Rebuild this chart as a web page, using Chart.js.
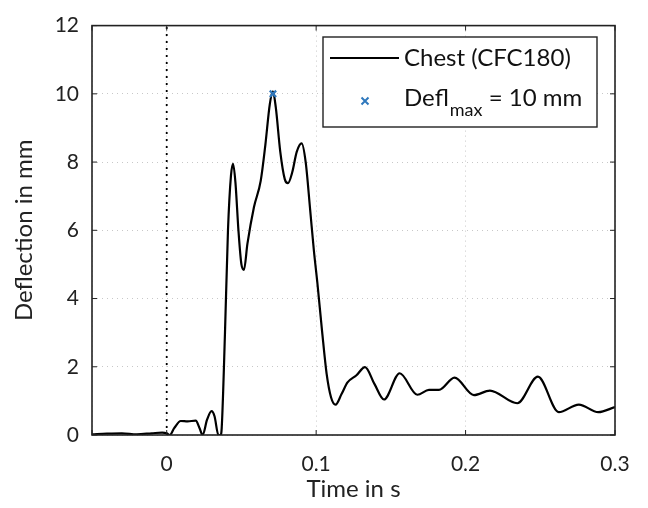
<!DOCTYPE html>
<html>
<head>
<meta charset="utf-8">
<script src="https://cdn.jsdelivr.net/npm/chart.js@4"></script>
<style>
  html, body { margin: 0; padding: 0; background: #fff; }
  #wrap { width: 648px; height: 508px; }
</style>
</head>
<body>
<div id="wrap"><canvas id="deflChart" width="648" height="508"></canvas></div>
<script>
// chest deflection (CFC180)
const timeS = [
  -0.05, -0.04, -0.03, -0.02, -0.01, -0.003, 0.0, 0.002, 0.005, 0.0094, 0.014, 0.0194,
  0.022, 0.024, 0.027, 0.030, 0.032, 0.0346, 0.036, 0.0368, 0.039, 0.041, 0.043, 0.0444,
  0.046, 0.048, 0.050, 0.0517, 0.054, 0.0584, 0.0629, 0.066, 0.069, 0.0711, 0.073, 0.076,
  0.079, 0.0811, 0.084, 0.087, 0.0903, 0.093, 0.096, 0.0985, 0.1008, 0.104, 0.107, 0.110,
  0.113, 0.117, 0.121, 0.127, 0.1327, 0.139, 0.1454, 0.1559, 0.1677, 0.1755, 0.1822, 0.1926,
  0.2056, 0.2163, 0.2346, 0.2484, 0.2624, 0.2758, 0.2888, 0.3
];
const deflMm = [
  0.02, 0.04, 0.05, 0.02, 0.05, 0.07, 0.05, 0.0, 0.2, 0.41, 0.40, 0.42,
  0.2, 0.0, 0.45, 0.70, 0.55, 0.0, 0.0, 0.2, 3.0, 6.0, 7.6, 7.95,
  7.4, 6.0, 5.0, 4.84, 5.6, 6.68, 7.45, 8.5, 9.7, 10.07, 9.6, 8.3,
  7.5, 7.38, 7.7, 8.3, 8.55, 8.0, 6.6, 5.4, 4.47, 3.03, 1.8, 1.1,
  0.89, 1.2, 1.54, 1.75, 1.99, 1.5, 1.04, 1.81, 1.18, 1.32, 1.32, 1.68,
  1.17, 1.30, 0.93, 1.71, 0.67, 0.89, 0.67, 0.82
];
const maxPoint = { t: 0.0711, d: 10.0 };
const xTicks = [-0.05, 0, 0.1, 0.2, 0.3];
const yTicks = [0, 2, 4, 6, 8, 10, 12];
const seriesLabel = 'Chest (CFC180)';

const FONT = 'Lato, "DejaVu Sans", sans-serif';
const markerBlue = '#2f78bd';

const curve = timeS.map((t, i) => ({ x: t, y: deflMm[i] }));

// box with inward ticks + custom legend (needs subscript)
const boxAndLegend = {
  id: 'boxAndLegend',
  afterDraw(chart) {
    const { ctx, chartArea: a, scales } = chart;
    ctx.save();
    ctx.strokeStyle = '#222';
    ctx.lineWidth = 1.6;
    ctx.strokeRect(a.left, a.top, a.right - a.left, a.bottom - a.top);
    ctx.lineWidth = 1;
    const tl = 5;
    xTicks.forEach(v => {
      const px = scales.x.getPixelForValue(v);
      ctx.beginPath();
      ctx.moveTo(px, a.bottom); ctx.lineTo(px, a.bottom - tl);
      ctx.moveTo(px, a.top); ctx.lineTo(px, a.top + tl);
      ctx.stroke();
    });
    yTicks.forEach(v => {
      const py = scales.y.getPixelForValue(v);
      ctx.beginPath();
      ctx.moveTo(a.left, py); ctx.lineTo(a.left + tl, py);
      ctx.moveTo(a.right, py); ctx.lineTo(a.right - tl, py);
      ctx.stroke();
    });

    // legend
    const lx = 323, ly = 37, lw = 274, lh = 90;
    ctx.fillStyle = '#fff';
    ctx.fillRect(lx, ly, lw, lh);
    ctx.strokeStyle = '#222';
    ctx.lineWidth = 1.4;
    ctx.strokeRect(lx, ly, lw, lh);
    ctx.strokeStyle = '#000';
    ctx.lineWidth = 2;
    ctx.beginPath();
    ctx.moveTo(330, 58); ctx.lineTo(399, 58);
    ctx.stroke();
    ctx.strokeStyle = markerBlue;
    ctx.lineWidth = 2;
    const mx = 365, my = 101, r = 3.5;
    ctx.beginPath();
    ctx.moveTo(mx - r, my - r); ctx.lineTo(mx + r, my + r);
    ctx.moveTo(mx - r, my + r); ctx.lineTo(mx + r, my - r);
    ctx.stroke();

    ctx.fillStyle = '#111';
    ctx.textBaseline = 'alphabetic';
    ctx.textAlign = 'left';
    ctx.font = '24px ' + FONT;
    ctx.fillText(seriesLabel, 404, 66);
    ctx.fillText('Defl', 404, 106);
    let w = ctx.measureText('Defl').width;
    ctx.font = '18px ' + FONT;
    ctx.fillText('max', 404 + w + 1, 116);
    const w2 = ctx.measureText('max').width;
    ctx.font = '24px ' + FONT;
    ctx.fillText(' = 10 mm', 404 + w + w2 + 1, 106);
    ctx.restore();
  }
};

new Chart(document.getElementById('deflChart'), {
  type: 'scatter',
  data: {
    datasets: [
      {
        label: 'zero',
        data: [{ x: 0, y: 0 }, { x: 0, y: 12 }],
        showLine: true,
        borderColor: '#000',
        borderWidth: 1.8,
        borderDash: [2, 5],
        pointRadius: 0,
        order: 3
      },
      {
        label: seriesLabel,
        data: curve,
        showLine: true,
        borderColor: '#000',
        borderWidth: 2.2,
        pointRadius: 0,
        cubicInterpolationMode: 'monotone',
        order: 2
      },
      {
        label: 'max',
        data: [{ x: maxPoint.t, y: maxPoint.d }],
        pointStyle: 'crossRot',
        pointRadius: 4.5,
        borderColor: markerBlue,
        borderWidth: 2.2,
        order: 1
      }
    ]
  },
  options: {
    responsive: false,
    animation: false,
    layout: { padding: { top: 18, right: 33, left: 0, bottom: 0 } },
    plugins: {
      legend: { display: false },
      tooltip: { enabled: false }
    },
    scales: {
      x: {
        type: 'linear',
        min: -0.05,
        max: 0.3,
        afterFit(s) { s.height = 73; },
        afterBuildTicks(s) { s.ticks = xTicks.map(v => ({ value: v })); },
        grid: { color: '#c8c8c8', lineWidth: 1, drawTicks: false },
        border: { display: false, dash: [1, 4] },
        ticks: {
          padding: 17,
          color: '#222',
          font: { family: FONT, size: 21 },
          callback: v => (v === -0.05 ? '' : String(v))
        },
        title: {
          display: true,
          text: 'Time in s',
          color: '#222',
          font: { family: FONT, size: 24 },
          padding: { top: -4 }
        }
      },
      y: {
        min: 0,
        max: 12,
        afterFit(s) { s.width = 92; },
        afterBuildTicks(s) { s.ticks = yTicks.map(v => ({ value: v })); },
        grid: { color: '#c8c8c8', lineWidth: 1, drawTicks: false },
        border: { display: false, dash: [1, 4] },
        ticks: {
          padding: 13,
          color: '#222',
          font: { family: FONT, size: 21 }
        },
        title: {
          display: true,
          text: 'Deflection in mm',
          color: '#222',
          font: { family: FONT, size: 24 },
          padding: { bottom: 0, top: 10 }
        }
      }
    }
  },
  plugins: [boxAndLegend]
});
</script>
</body>
</html>
